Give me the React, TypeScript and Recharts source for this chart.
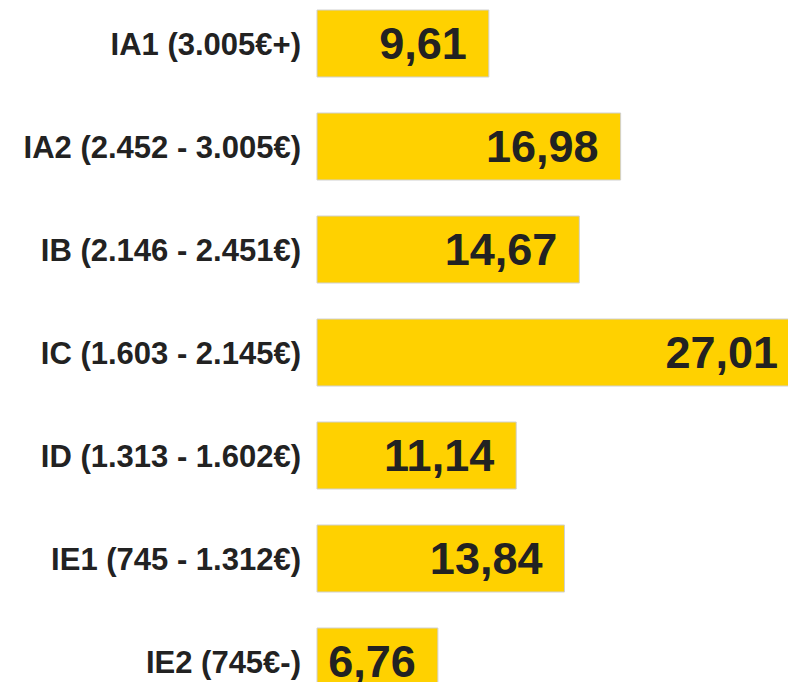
import { Bar, BarChart, LabelList, XAxis, YAxis } from "recharts";

const categories = [
  "IA1 (3.005€+)",
  "IA2 (2.452 - 3.005€)",
  "IB (2.146 - 2.451€)",
  "IC (1.603 - 2.145€)",
  "ID (1.313 - 1.602€)",
  "IE1 (745 - 1.312€)",
  "IE2 (745€-)",
];

const values = [9.61, 16.98, 14.67, 27.01, 11.14, 13.84, 6.76];

const data = categories.map((name, i) => ({ name, value: values[i] }));

const formatValue = (v: number) => v.toFixed(2).replace(".", ",");

export default function App() {
  return (
    <div
      style={{
        position: "fixed",
        top: 0,
        left: 0,
        width: 788,
        height: 682,
        overflow: "hidden",
        background: "#fff",
      }}
    >
      <div style={{ marginTop: -8 }}>
        <BarChart
          width={800}
          height={721}
          data={data}
          layout="vertical"
          margin={{ top: 0, right: 0, bottom: 0, left: 0 }}
        >
          <XAxis type="number" domain={[0, "dataMax"]} hide />
          <YAxis
            type="category"
            dataKey="name"
            width={317}
            axisLine={false}
            tickLine={false}
            tickSize={0}
            tickMargin={16}
            tick={{
              fill: "#222",
              fontSize: 31,
              fontWeight: "bold",
              fontFamily: "Liberation Sans, Arial, sans-serif",
            }}
          />
          <Bar
            dataKey="value"
            fill="#FFD100"
            stroke="#d0d0d0"
            strokeWidth={1}
            barSize={67}
            isAnimationActive={false}
          >
            <LabelList
              dataKey="value"
              position="insideRight"
              offset={22}
              formatter={(v: any) => formatValue(Number(v))}
              style={{
                fill: "#222",
                fontSize: 45,
                fontWeight: "bold",
                fontFamily: "Liberation Sans, Arial, sans-serif",
              }}
            />
          </Bar>
        </BarChart>
      </div>
    </div>
  );
}
